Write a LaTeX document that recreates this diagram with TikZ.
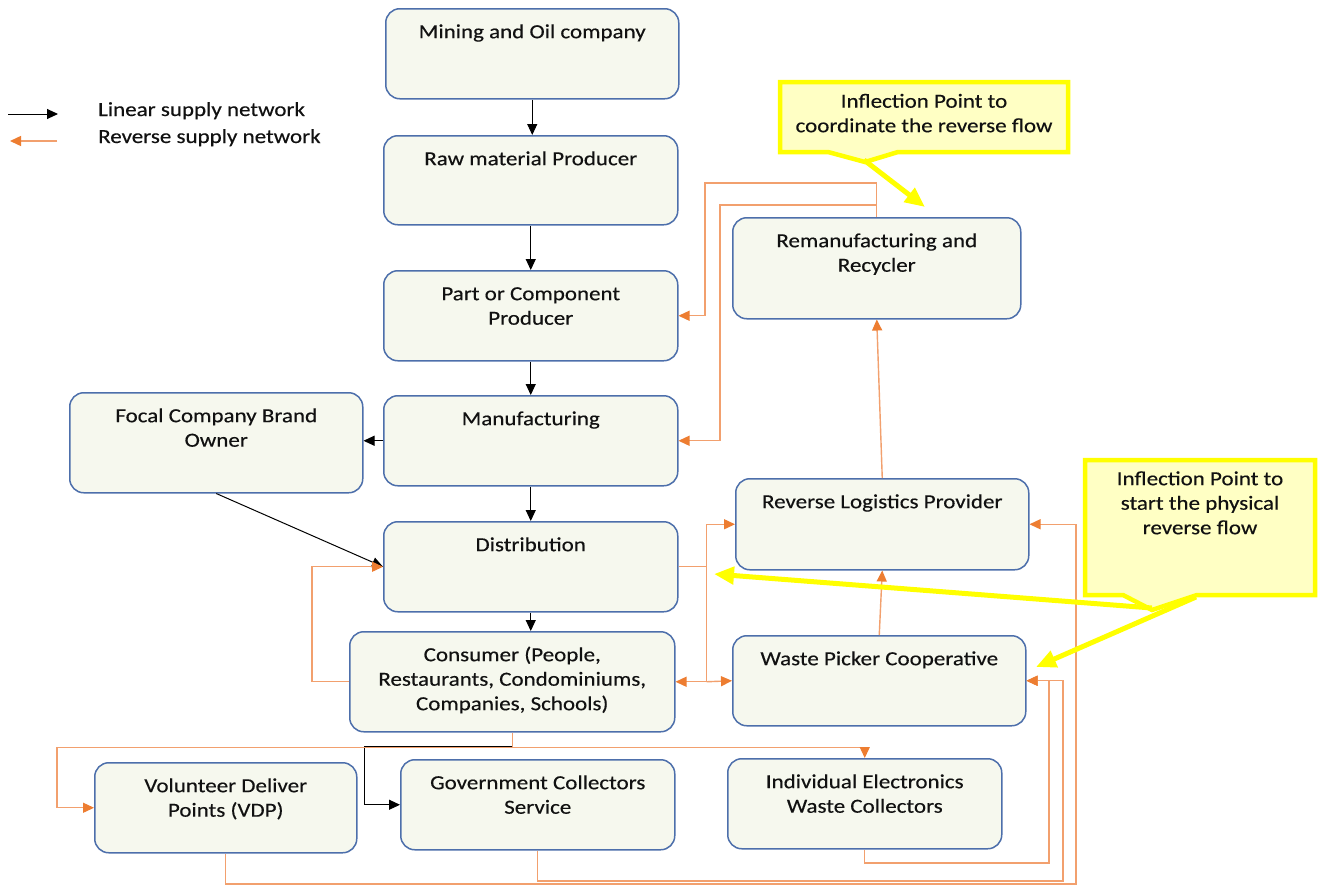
\documentclass[tikz,border=0pt]{standalone}
\usepackage{fontspec}
\setmainfont{Carlito}[FakeStretch=1.15,FakeBold=0.35]
\usetikzlibrary{arrows.meta,calc}

\definecolor{boxfill}{HTML}{F6F8EE}
\definecolor{boxline}{HTML}{4D6FAB}
\definecolor{orhead}{HTML}{ED7D31}
\definecolor{orline}{HTML}{F2A06E}
\definecolor{ylw}{HTML}{FFFF00}
\definecolor{ylwfill}{HTML}{FFFFC4}
\definecolor{txtcol}{HTML}{111111}

\tikzset{
  flowbox/.style={draw=boxline, fill=boxfill, line width=1.5pt, rounded corners=14pt, inner sep=0pt},
  ftext/.style={anchor=north, inner sep=0pt, align=center, font=\fontsize{20}{24.5}\selectfont, text=txtcol},
  legtext/.style={anchor=base west, inner sep=0pt, font=\fontsize{20}{24.5}\selectfont, text=txtcol},
  lin/.style={draw=black, line width=1pt, -{Triangle[length=11pt,width=10pt]}},
  rev/.style={draw=orline, line width=1.4pt, -{Triangle[length=11pt,width=10pt,color=orhead]}},
  revline/.style={draw=orline, line width=1.4pt},
  callout/.style={draw=ylw, fill=ylwfill, line width=4.5pt, line join=miter},
  yarrow/.style={draw=ylw, line width=5pt, -{Triangle[length=20pt,width=17pt]}},
}

% box with its text set near the top edge
\newcommand{\flowbox}[6]{%
  \node[flowbox, minimum width={#4-#2}, minimum height={#5-#3}, anchor=north west] (#1) at (#2,#3) {};
  \node[ftext] (#1-t) at ([yshift=-14pt]#1.north) {\rule{0pt}{16pt}#6};}

\begin{document}
\begin{tikzpicture}[x=1pt,y=-1pt]
\fill[white] (0,0) rectangle (1324,886);
\useasboundingbox (0,0) rectangle (1324,886);

% legend
\coordinate (la1) at (8,114);
\coordinate (la2) at (58,114);
\coordinate (lb1) at (57,141);
\coordinate (lb2) at (10,141);
\draw[lin] (la1) -- (la2);
\draw[rev] (lb1) -- (lb2);
\node[legtext] (leg1) at (98,116) {Linear supply network};
\node[legtext] (leg2) at (98,143) {Reverse supply network};

% boxes
\flowbox{mine}{385}{8}{678}{98}{Mining and Oil company}
\flowbox{raw}{383}{135}{677}{224}{Raw material Producer}
\flowbox{part}{383}{270}{677}{360}{Part or Component\\Producer}
\flowbox{manu}{383}{395}{677}{485}{Manufacturing}
\flowbox{focal}{69}{392}{362}{492}{Focal Company Brand\\Owner}
\flowbox{dist}{383}{521}{677}{611}{Distribution}
\flowbox{cons}{349}{631}{674}{731}{Consumer (People,\\Restaurants, Condominiums,\\Companies, Schools)}
\flowbox{rem}{732}{217}{1020}{318}{Remanufacturing and\\Recycler}
\flowbox{rlp}{735}{478}{1028}{569}{Reverse Logistics Provider}
\flowbox{wp}{732}{635}{1025}{725}{Waste Picker Cooperative}
\flowbox{vdp}{94}{762}{356}{852}{Volunteer Deliver\\Points (VDP)}
\flowbox{gov}{400}{759}{674}{849}{Government Collectors\\Service}
\flowbox{ind}{727}{758}{1001}{848}{Individual Electronics\\Waste Collectors}

% linear (forward) flow
\draw[lin] (mine.south) -- (mine.south |- raw.north);
\draw[lin] (raw.south) -- (raw.south |- part.north);
\draw[lin] (part.south) -- (part.south |- manu.north);
\draw[lin] (manu.west) -- (manu.west -| focal.east);
\draw[lin] (manu.south) -- (manu.south |- dist.north);
\draw[lin] (focal.south) -- (dist.west);
\draw[lin] (dist.south) -- (dist.south |- cons.north);

% reverse flow back into production
\coordinate (r1) at (705,183);
\coordinate (r2) at (720,205);
\draw[rev] (rem.north) |- (r1) -- (r1 |- part.east) -- (part.east);
\draw[rev] (rem.north) |- (r2) -- (r2 |- manu.east) -- (manu.east);
\draw[rev] (rlp.north) -- (rem.south);
\draw[rev] (wp.north) -- (rlp.south);

% distribution / consumer bus
\draw[revline] (dist.east) -- ++(28,0) coordinate (bj);
\draw[revline] (bj |- rlp.west) -- (bj |- cons.east);
\draw[rev] (bj |- rlp.west) -- (rlp.west);
\draw[rev] (bj |- cons.east) -- (cons.east);
\draw[rev] (bj |- cons.east) -- (wp.west);
\draw[rev] (cons.west) -- ++(-37,0) |- (dist.west);

% consumer to collectors
\draw[revline] (cons.south) -- ++(0,15) coordinate (cb);
\draw[lin] ([yshift=1pt]cb) -| ([xshift=-36pt]gov.west) -- (gov.west);
\draw[rev] (cb) -| (ind.north);
\draw[rev] (cb) -| ([xshift=-37pt]vdp.west) -- (vdp.west);

% collectors back to the reverse chain
\coordinate (o1) at (1076,884);
\coordinate (o2) at (1063,881);
\coordinate (o3) at (1049,863);
\draw[rev] (vdp.south) |- (o1) |- (rlp.east);
\draw[rev] (gov.south) |- (o2) |- (wp.east);
\draw[rev] (ind.south) |- (o3) |- (wp.east);

% callout: coordinate the reverse flow
\draw[callout] (780,82) -- (1068,82) -- (1068,152) -- (898,152) -- (865,162) -- (828,152) -- (780,152) -- cycle;
\node[ftext] (call1-t) at (924,91.5) {\rule{0pt}{16pt}Inflection Point to\\coordinate the reverse flow};
\coordinate (c1a) at (864,160);
\coordinate (c1b) at (925,207);
\draw[yarrow] (c1a) -- (c1b);

% callout: start the physical reverse flow
\draw[callout] (1085,460) -- (1315,460) -- (1315,595) -- (1197,595) -- (1152,610) -- (1123,595) -- (1085,595) -- cycle;
\node[ftext] (call2-t) at (1200,469) {\rule{0pt}{16pt}Inflection Point to\\start the physical\\reverse flow};
\coordinate (c2a) at (1152,608);
\coordinate (c2b) at (714,574);
\coordinate (c2c) at (1196,597);
\coordinate (c2d) at (1036,667);
\draw[yarrow] (c2a) -- (c2b);
\draw[yarrow] (c2c) -- (c2d);
\end{tikzpicture}
\end{document}
